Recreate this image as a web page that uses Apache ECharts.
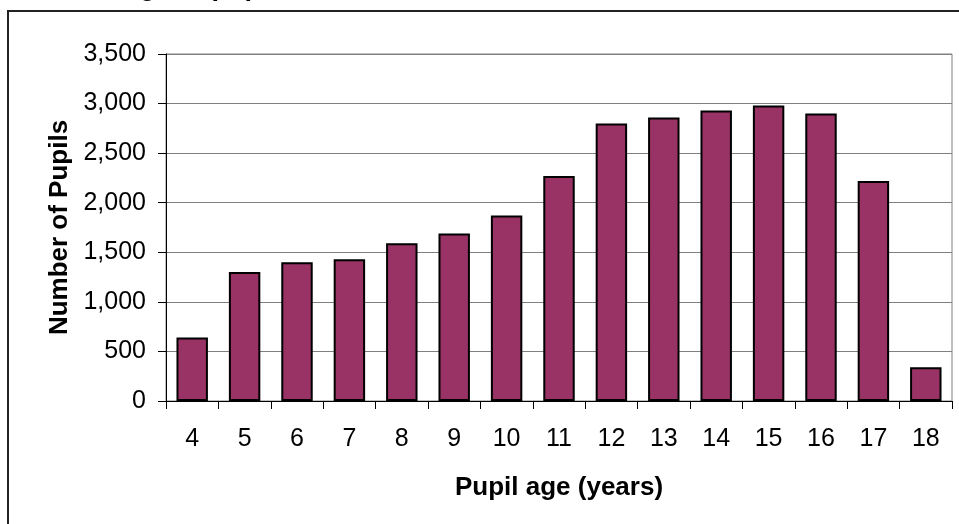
<!DOCTYPE html>
<html>
<head>
<meta charset="UTF-8">
<title>Pupil age</title>
<script src="https://cdn.jsdelivr.net/npm/echarts@6/dist/echarts.min.js"></script>
<style>
    html, body {margin: 0; padding: 0; background: #fff;}
    #chart {width: 959px; height: 524px;}
</style>
</head>
<body>
<div id="chart"></div>
<script>
    // data
    var ages = ['4', '5', '6', '7', '8', '9', '10', '11', '12', '13', '14', '15', '16', '17', '18'];
    var pupils = [640, 1300, 1400, 1430, 1590, 1690, 1870, 2270, 2800, 2860, 2930, 2980, 2900, 2220, 340];
    var yMin = 0, yMax = 3500, yStep = 500;

    var fontName = '"Liberation Sans", Arial, sans-serif';

    var myChart = echarts.init(document.getElementById('chart'));
    var option = {
        animation: false,
        textStyle: {fontFamily: fontName},
        graphic: [
            {
                // outer chart-area frame, runs off the right and bottom edges
                type: 'rect',
                shape: {x: 8, y: 11, width: 980, height: 540},
                style: {fill: 'none', stroke: '#222', lineWidth: 2}
            },
            {
                // title, mostly cut off above the picture
                type: 'text',
                left: 120,
                top: -26,
                style: {
                    text: 'Age of pupils in Wales, 2009/10',
                    font: 'bold 27px ' + fontName,
                    fill: '#000'
                }
            }
        ],
        grid: {
            left: 166,
            right: 7,
            top: 54,
            bottom: 123,
            show: true,
            borderColor: '#808080',
            borderWidth: 1,
            backgroundColor: 'transparent'
        },
        xAxis: {
            type: 'category',
            data: ages,
            name: 'Pupil age (years)',
            nameLocation: 'middle',
            nameGap: 74,
            nameTextStyle: {fontSize: 26, fontWeight: 'bold', color: '#000'},
            axisLine: {lineStyle: {color: '#000', width: 1}},
            axisTick: {show: true, length: 8, lineStyle: {color: '#000'}},
            axisLabel: {fontSize: 25, color: '#000', margin: 26}
        },
        yAxis: {
            type: 'value',
            min: yMin,
            max: yMax,
            interval: yStep,
            name: 'Number of Pupils',
            nameLocation: 'middle',
            nameGap: 92,
            nameTextStyle: {fontSize: 26, fontWeight: 'bold', color: '#000'},
            axisLine: {show: true, lineStyle: {color: '#000', width: 1}},
            axisTick: {show: true, length: 8, lineStyle: {color: '#000'}},
            axisLabel: {
                fontSize: 25,
                color: '#000',
                margin: 20,
                formatter: function (v) { return v.toLocaleString('en-US'); }
            },
            splitLine: {show: true, lineStyle: {color: '#808080', width: 1}}
        },
        series: [{
            type: 'bar',
            data: pupils,
            barWidth: '60%',
            itemStyle: {color: '#993366', borderColor: '#000', borderWidth: 2}
        }]
    };
    myChart.setOption(option);
</script>
</body>
</html>
